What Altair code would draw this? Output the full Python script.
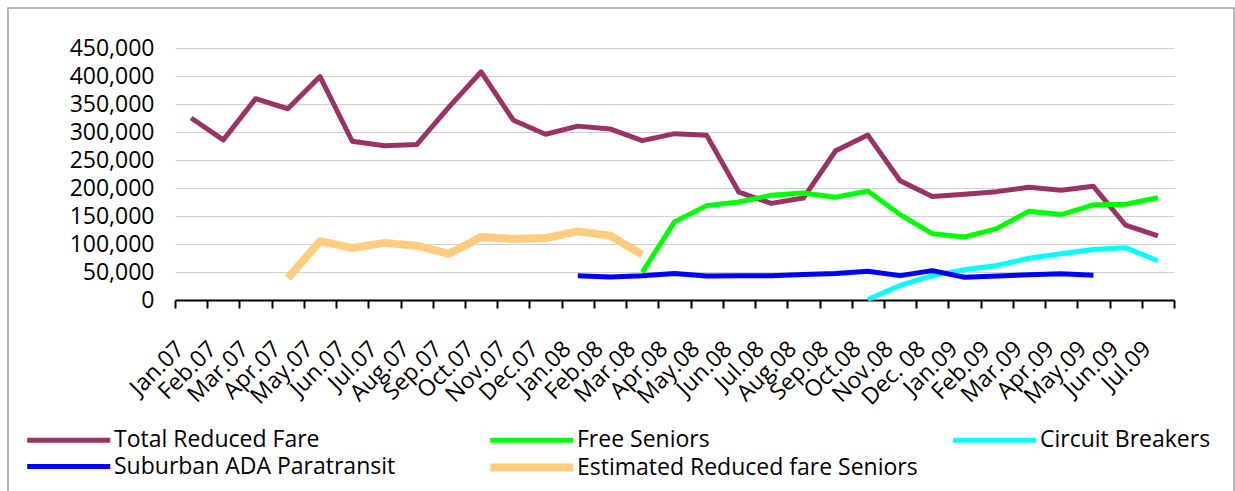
import altair as alt
import pandas as pd

months = ["Jan.07", "Feb.07", "Mar.07", "Apr.07", "May.07", "Jun.07", "Jul.07", "Aug.07",
          "Sep.07", "Oct.07", "Nov.07", "Dec.07", "Jan.08", "Feb.08", "Mar.08", "Apr.08",
          "May.08", "Jun.08", "Jul.08", "Aug.08", "Sep.08", "Oct.08", "Nov.08", "Dec. 08",
          "Jan.09", "Feb.09", "Mar.09", "Apr.09", "May.09", "Jun.09", "Jul.09"]

series_names = ["Total Reduced Fare", "Free Seniors", "Circuit Breakers",
                "Suburban ADA Paratransit", "Estimated Reduced fare Seniors"]
series_colors = ["#993366", "#00FF00", "#00FFFF", "#0000FF", "#FFCC80"]
series_widths = [5, 5, 5, 5, 8]

total = [325000, 286000, 359500, 341500, 399000, 283500, 275500, 277500, 344500, 407500,
         321000, 296000, 310500, 305500, 284500, 297000, 294000, 192500, 172500, 182000,
         266500, 294500, 213000, 185000, 189000, 193500, 201500, 196000, 203000, 133500, 114500]
free = [None] * 14 + [49500, 139500, 168500, 175000, 187000, 191000, 183500, 194500, 152500,
                      118500, 112500, 127500, 158500, 152500, 170000, 171000, 182500]
circuit = [None] * 21 + [1000, 26000, 43500, 54000, 61500, 74500, 82500, 90000, 93500, 70000]
ada = [None] * 12 + [43500, 41000, 43500, 47500, 43000, 43500, 43500, 45500, 47500, 51500,
                     43500, 52500, 40500, 43000, 45000, 47000, 44000] + [None] * 2
est = [None] * 3 + [39000, 105000, 93000, 102000, 97000, 82500, 112500, 109000, 110500,
                    122500, 115000, 81000] + [None] * 16

y_ticks = [0, 50000, 100000, 150000, 200000, 250000, 300000, 350000, 400000, 450000]

rows = []
for name, vals in zip(series_names, [total, free, circuit, ada, est]):
    for m, v in zip(months, vals):
        if v is not None:
            rows.append({"month": m, "series": name, "value": v})
df = pd.DataFrame(rows)

FONT = "Open Sans"

legend = alt.Legend(title=None, orient="none", legendX=-152, legendY=378,
                    direction="horizontal", columns=3, gridAlign="all",
                    columnPadding=19, rowPadding=-16, symbolType="M-1,0H9",
                    symbolSize=276, symbolStrokeWidth=5, labelFontSize=23,
                    labelFont=FONT, labelColor="black", labelOffset=66, padding=0,
                    labelLimit=0)

lines = alt.Chart(df).mark_line(strokeJoin="round").encode(
    x=alt.X("month:O", sort=months,
            scale=alt.Scale(type="band", domain=months, paddingInner=0, paddingOuter=0),
            axis=alt.Axis(title=None, tickBand="extent", labelAngle=-45, labelAlign="right",
                          labelBaseline="middle", labelFontSize=23, labelFont=FONT,
                          labelColor="black", tickColor="black", tickWidth=2, tickSize=8,
                          domainColor="black", domainWidth=2, labelPadding=37,
                          labelOffset=-11, grid=False, labelOverlap=False)),
    y=alt.Y("value:Q", scale=alt.Scale(domain=[0, 450000], nice=False),
            axis=alt.Axis(title=None, values=y_ticks, format=",d", domain=False,
                          ticks=False, labelFontSize=23, labelFont=FONT,
                          labelColor="black", labelPadding=21, gridColor="#d0d0d0",
                          gridWidth=1)),
    color=alt.Color("series:N", sort=series_names,
                    scale=alt.Scale(domain=series_names, range=series_colors),
                    legend=legend),
    strokeWidth=alt.StrokeWidth("series:N", sort=series_names,
                                scale=alt.Scale(type="ordinal", domain=series_names,
                                                range=series_widths),
                                legend=legend),
    detail="series:N",
)

border = alt.Chart(pd.DataFrame({"b": [0]})).mark_rect(
    fill="transparent", stroke="#a0a0a0", strokeWidth=1.5
).encode(x=alt.value(-167), x2=alt.value(1059), y=alt.value(-40), y2=alt.value(460))

chart = alt.layer(border, lines).properties(
    width=999, height=252,
    padding={"left": 175, "top": 48, "right": 61, "bottom": 191},
    autosize=alt.AutoSizeParams(type="none"),
).configure_view(strokeWidth=0)

chart.save("out.html", embed_options={"renderer": "svg", "actions": False})
